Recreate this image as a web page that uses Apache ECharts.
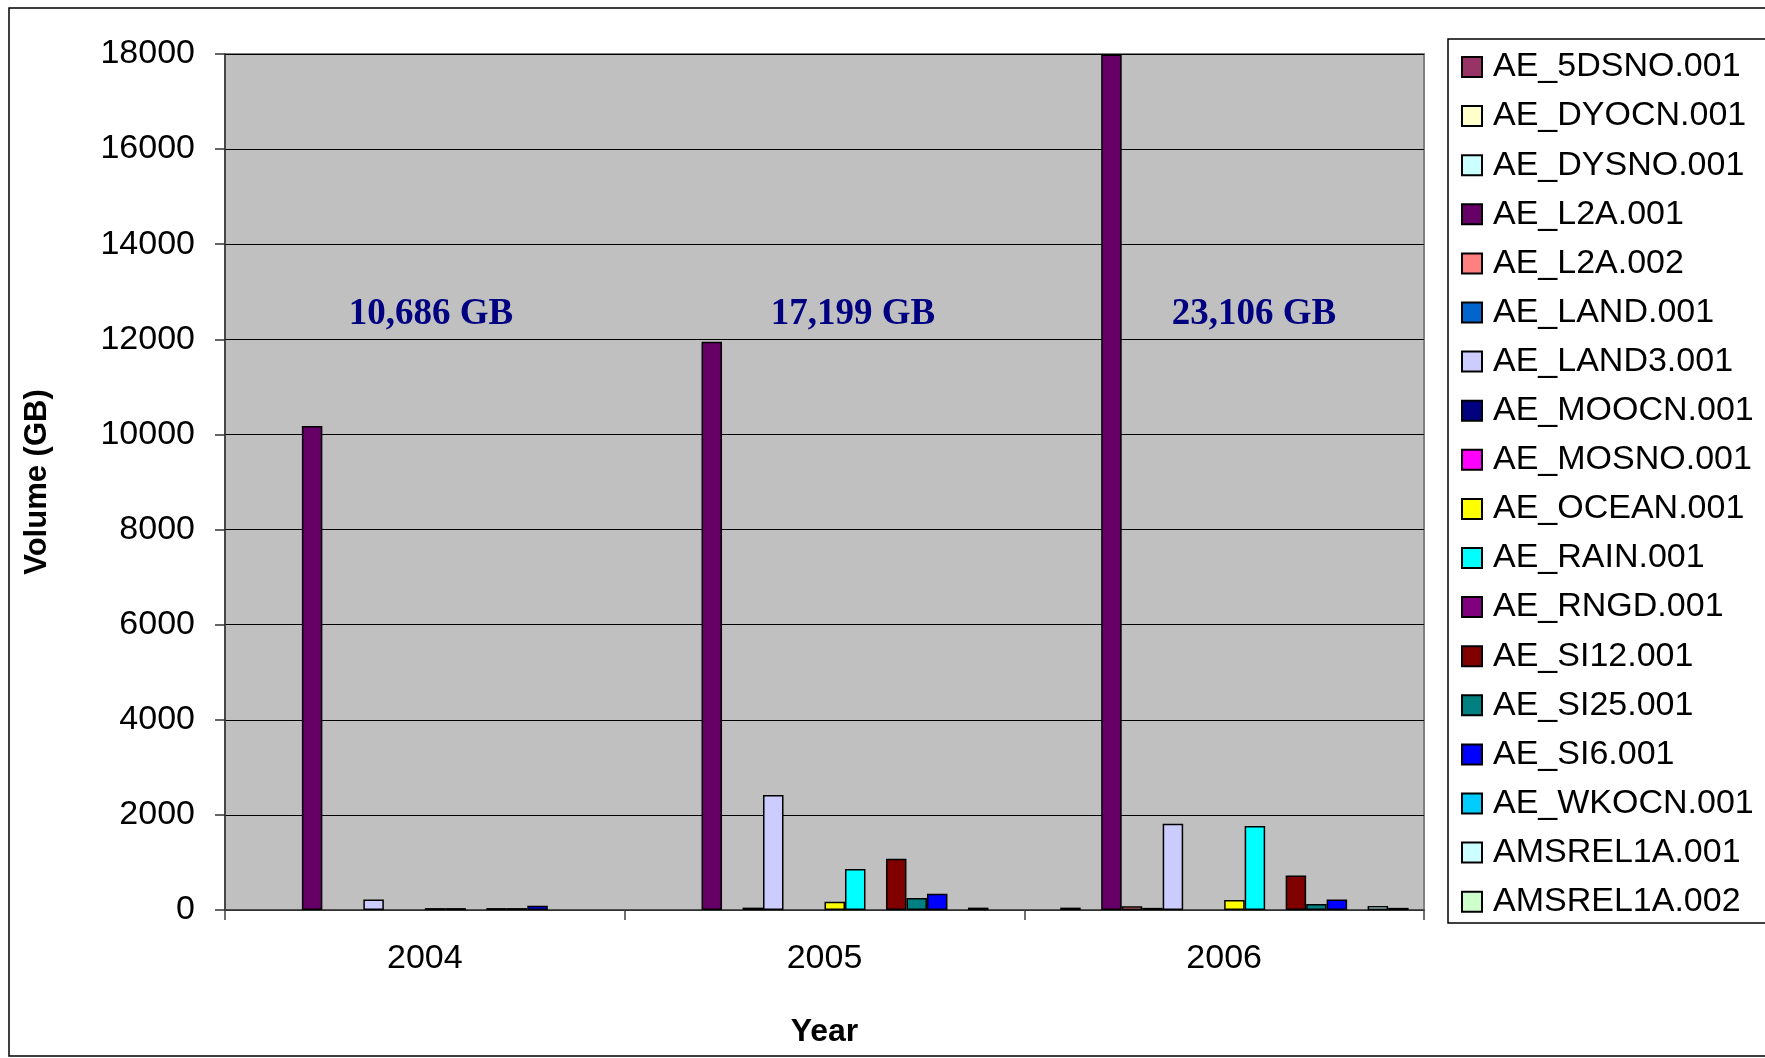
<!DOCTYPE html>
<html>
<head>
<meta charset="utf-8">
<script src="https://cdn.jsdelivr.net/npm/echarts@6/dist/echarts.min.js"></script>
<style>html,body{margin:0;padding:0;background:#fff}#c{width:1765px;height:1058px}</style>
</head>
<body>
<div id="c"></div>
<script>
const years = ['2004', '2005', '2006'];
const seriesNames = ['AE_5DSNO.001','AE_DYOCN.001','AE_DYSNO.001','AE_L2A.001','AE_L2A.002','AE_LAND.001','AE_LAND3.001','AE_MOOCN.001','AE_MOSNO.001','AE_OCEAN.001','AE_RAIN.001','AE_RNGD.001','AE_SI12.001','AE_SI25.001','AE_SI6.001','AE_WKOCN.001','AMSREL1A.001','AMSREL1A.002'];
const seriesColors = ['#993366','#FFFFCC','#CCFFFF','#660066','#FF8080','#0066CC','#CCCCFF','#000080','#FF00FF','#FFFF00','#00FFFF','#800080','#800000','#008080','#0000FF','#00CCFF','#CCFFFF','#CCFFCC'];
const values2004 = [0,0,0,10180,0,0,220,0,0,40,40,0,40,40,90,0,0,0];
const values2005 = [0,0,0,11950,0,50,2420,0,0,175,860,0,1080,250,340,0,50,0];
const values2006 = [0,50,0,17990,80,45,1815,0,0,210,1766,0,728,125,222,0,85,45];
const totalLabels = ['10,686 GB', '17,199 GB', '23,106 GB'];
const yTicks = [0, 2000, 4000, 6000, 8000, 10000, 12000, 14000, 16000, 18000];

const byYear = [values2004, values2005, values2006];
const FONT = '"Liberation Sans", Arial, sans-serif';

const series = seriesNames.map((name, i) => ({
  name: name,
  type: 'bar',
  barGap: '0%',
  barCategoryGap: '7.7%',
  data: byYear.map(v => v[i] === 0 ? null : v[i]),
  itemStyle: { color: seriesColors[i], borderColor: '#000', borderWidth: 1.5 },
  emphasis: { disabled: true }
}));

const labelX = [431, 853, 1254];
const chart = echarts.init(document.getElementById('c'), null, { renderer: 'canvas' });
chart.setOption({
  animation: false,
  backgroundColor: '#fff',
  grid: { left: 225, right: 341, top: 54, bottom: 148, show: true, backgroundColor: '#C0C0C0', borderColor: '#808080', borderWidth: 2 },
  xAxis: {
    type: 'category',
    data: years,
    name: 'Year',
    nameLocation: 'middle',
    nameGap: 106,
    nameTextStyle: { fontFamily: FONT, fontSize: 32, fontWeight: 'bold', color: '#000' },
    axisLine: { lineStyle: { color: '#404040', width: 1.5 } },
    axisTick: { show: true, length: 10, lineStyle: { color: '#404040', width: 1.5 } },
    axisLabel: { fontFamily: FONT, fontSize: 34, color: '#000', margin: 32 }
  },
  yAxis: {
    type: 'value',
    min: yTicks[0],
    max: yTicks[yTicks.length - 1],
    interval: yTicks[1] - yTicks[0],
    name: 'Volume (GB)',
    nameLocation: 'middle',
    nameGap: 172,
    nameTextStyle: { fontFamily: FONT, fontSize: 31, fontWeight: 'bold', color: '#000' },
    axisLine: { show: true, lineStyle: { color: '#333', width: 1.5 } },
    axisTick: { show: true, length: 10, lineStyle: { color: '#333', width: 1.5 } },
    axisLabel: { fontFamily: FONT, fontSize: 34, color: '#000', margin: 30, formatter: v => String(v) },
    splitLine: { show: true, lineStyle: { color: '#000', width: 1.2 } }
  },
  legend: {
    orient: 'vertical',
    left: 1461,
    top: 50,
    padding: 0,
    itemWidth: 20,
    itemHeight: 20,
    itemGap: 15.1,
    icon: 'rect',
    selectedMode: false,
    data: seriesNames,
    textStyle: { fontFamily: FONT, fontSize: 34, color: '#000', lineHeight: 34, padding: [0, 0, 0, 6] }
  },
  graphic: [
    { type: 'rect', z: -1, shape: { x: 9, y: 8, width: 1800, height: 1048 }, style: { fill: 'none', stroke: '#000', lineWidth: 1.5 } },
    { type: 'rect', z: -1, shape: { x: 1448, y: 39, width: 400, height: 884 }, style: { fill: '#fff', stroke: '#000', lineWidth: 1.5 } }
  ].concat(totalLabels.map((t, k) => ({
    type: 'text', z: 10, x: labelX[k], y: 314,
    style: { text: t, font: 'bold 37px "Liberation Serif", "Times New Roman", serif', fill: '#000080', align: 'center', verticalAlign: 'middle' }
  }))),
  series: series
});
</script>
</body>
</html>
